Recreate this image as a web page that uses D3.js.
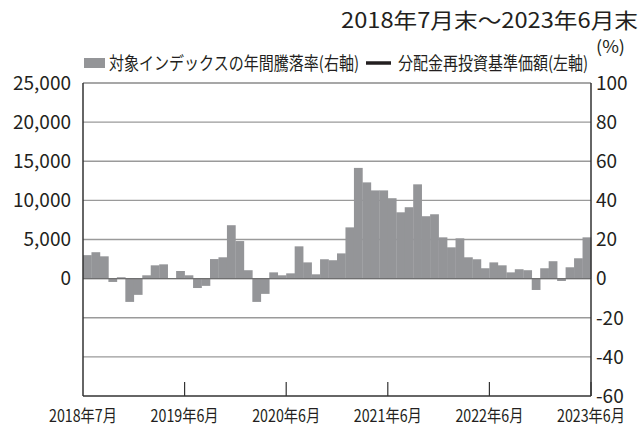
<!DOCTYPE html>
<html lang="ja">
<head>
<meta charset="UTF-8">
<title>対象インデックスの年間騰落率</title>
<script src="https://d3js.org/d3.v7.min.js"></script>
<style>
    body { margin: 0; background: #fff; }
    svg text { font-family: "Noto Sans CJK JP", "Noto Sans", sans-serif; fill: #231f20; }
</style>
</head>
<body>
<svg id="chart" width="641" height="428"></svg>
<script>
// 2018年7月 ～ 2023年6月 (60 months)
const months = d3.range(60).map(i => {
    const y = 2018 + Math.floor((i + 6) / 12);
    const m = ((i + 6) % 12) + 1;
    return `${y}-${m}`;
});

// 対象インデックスの年間騰落率 (%, right axis)
const annualReturn = [
    12.0, 13.5, 11.4, -1.7, 0.7, -11.9, -8.3, 1.7, 6.8, 7.3, 0.2, 3.9,
    1.7, -4.8, -3.7, 10.0, 10.9, 27.3, 19.2, 4.3, -11.9, -7.8, 3.2, 1.7,
    2.7, 16.5, 8.3, 2.2, 9.9, 9.4, 12.9, 26.2, 56.6, 49.2, 45.1, 45.1,
    41.1, 33.9, 36.5, 48.2, 31.9, 32.9, 21.1, 16.0, 20.6, 10.9, 9.9, 5.3,
    8.3, 6.8, 3.2, 4.8, 4.3, -5.8, 5.3, 8.9, -1.2, 5.8, 10.4, 21.1
];

const leftTicks = [0, 5000, 10000, 15000, 20000, 25000];
const rightTicks = [-60, -40, -20, 0, 20, 40, 60, 80, 100];
const xTickMonths = ["2019-6", "2020-6", "2021-6", "2022-6", "2023-6"];
const xTickLabels = ["2018年7月", "2019年6月", "2020年6月", "2021年6月", "2022年6月", "2023年6月"];

const plotLeft = 83, plotRight = 591, plotTop = 83, plotBottom = 396;
const svg = d3.select("#chart");

const x = d3.scaleBand().domain(months).range([plotLeft, plotRight]).padding(0);
const yR = d3.scaleLinear().domain([-60, 100]).range([plotBottom, plotTop]);
const yL = d3.scaleLinear().domain([-15000, 25000]).range([plotBottom, plotTop]);

// gridlines
svg.append("g")
    .selectAll("line")
    .data(rightTicks.filter(t => t > -60 && t < 100))
    .join("line")
    .attr("x1", plotLeft).attr("x2", plotRight)
    .attr("y1", d => yR(d)).attr("y2", d => yR(d))
    .attr("stroke", "#9a9a9a").attr("stroke-width", 1.3);

// top border
svg.append("line")
    .attr("x1", plotLeft).attr("x2", plotRight).attr("y1", plotTop).attr("y2", plotTop)
    .attr("stroke", "#8a8a8a").attr("stroke-width", 1.3);

// bars
svg.append("g")
    .selectAll("rect")
    .data(annualReturn)
    .join("rect")
    .attr("x", (d, i) => x(months[i]))
    .attr("width", x.bandwidth() + 0.3)
    .attr("y", d => yR(Math.max(0, d)))
    .attr("height", d => Math.abs(yR(d) - yR(0)))
    .attr("fill", "#949598");

// fund line / zero baseline
svg.append("line")
    .attr("x1", plotLeft).attr("x2", plotRight).attr("y1", yR(0)).attr("y2", yR(0))
    .attr("stroke", "#555").attr("stroke-width", 1.2).attr("stroke-opacity", 0.6);

// axes frame
svg.append("line").attr("x1", plotLeft).attr("x2", plotLeft).attr("y1", plotTop).attr("y2", plotBottom)
    .attr("stroke", "#333").attr("stroke-width", 1.5);
svg.append("line").attr("x1", plotRight).attr("x2", plotRight).attr("y1", plotTop).attr("y2", plotBottom)
    .attr("stroke", "#333").attr("stroke-width", 1.5);
svg.append("line").attr("x1", plotLeft).attr("x2", plotRight).attr("y1", plotBottom).attr("y2", plotBottom)
    .attr("stroke", "#333").attr("stroke-width", 1.5);

// left axis labels
svg.append("g")
    .selectAll("text")
    .data(leftTicks)
    .join("text")
    .attr("x", 71).attr("y", d => yL(d))
    .attr("dy", "0.36em")
    .attr("text-anchor", "end")
    .attr("font-size", 19)
    .text(d => d3.format(",")(d));

// right axis labels
svg.append("g")
    .selectAll("text")
    .data(rightTicks)
    .join("text")
    .attr("x", 596).attr("y", d => yR(d))
    .attr("dy", "0.36em")
    .attr("font-size", 19)
    .text(d => d);

// bottom ticks (inside)
svg.append("g")
    .selectAll("line")
    .data(xTickMonths)
    .join("line")
    .attr("x1", d => x(d) + x.bandwidth()).attr("x2", d => x(d) + x.bandwidth())
    .attr("y1", plotBottom).attr("y2", plotBottom - 14)
    .attr("stroke", "#333").attr("stroke-width", 1.2);

// bottom labels
const xLabelPos = [plotLeft].concat(xTickMonths.map(d => x(d) + x.bandwidth()));
svg.append("g")
    .selectAll("text")
    .data(xTickLabels)
    .join("text")
    .attr("x", (d, i) => Math.min(xLabelPos[i], 594))
    .attr("y", 422)
    .attr("text-anchor", "middle")
    .attr("font-size", 17)
    .attr("textLength", 68)
    .attr("lengthAdjust", "spacingAndGlyphs")
    .text(d => d);

// title
svg.append("text")
    .attr("x", 638).attr("y", 28)
    .attr("text-anchor", "end")
    .attr("font-size", 21)
    .attr("textLength", 297)
    .attr("lengthAdjust", "spacingAndGlyphs")
    .text("2018年7月末～2023年6月末");

// legend
svg.append("rect").attr("x", 84).attr("y", 58).attr("width", 21).attr("height", 10).attr("fill", "#949598");
svg.append("text")
    .attr("x", 109).attr("y", 70)
    .attr("font-size", 18)
    .attr("textLength", 250)
    .attr("lengthAdjust", "spacingAndGlyphs")
    .text("対象インデックスの年間騰落率(右軸)");
svg.append("line").attr("x1", 366).attr("x2", 391).attr("y1", 63).attr("y2", 63)
    .attr("stroke", "#231f20").attr("stroke-width", 3.5);
svg.append("text")
    .attr("x", 398).attr("y", 70)
    .attr("font-size", 18)
    .attr("textLength", 190)
    .attr("lengthAdjust", "spacingAndGlyphs")
    .text("分配金再投資基準価額(左軸)");
svg.append("text")
    .attr("x", 596).attr("y", 53)
    .attr("font-size", 17)
    .attr("textLength", 29)
    .attr("lengthAdjust", "spacingAndGlyphs")
    .text("(%)");
</script>
</body>
</html>
